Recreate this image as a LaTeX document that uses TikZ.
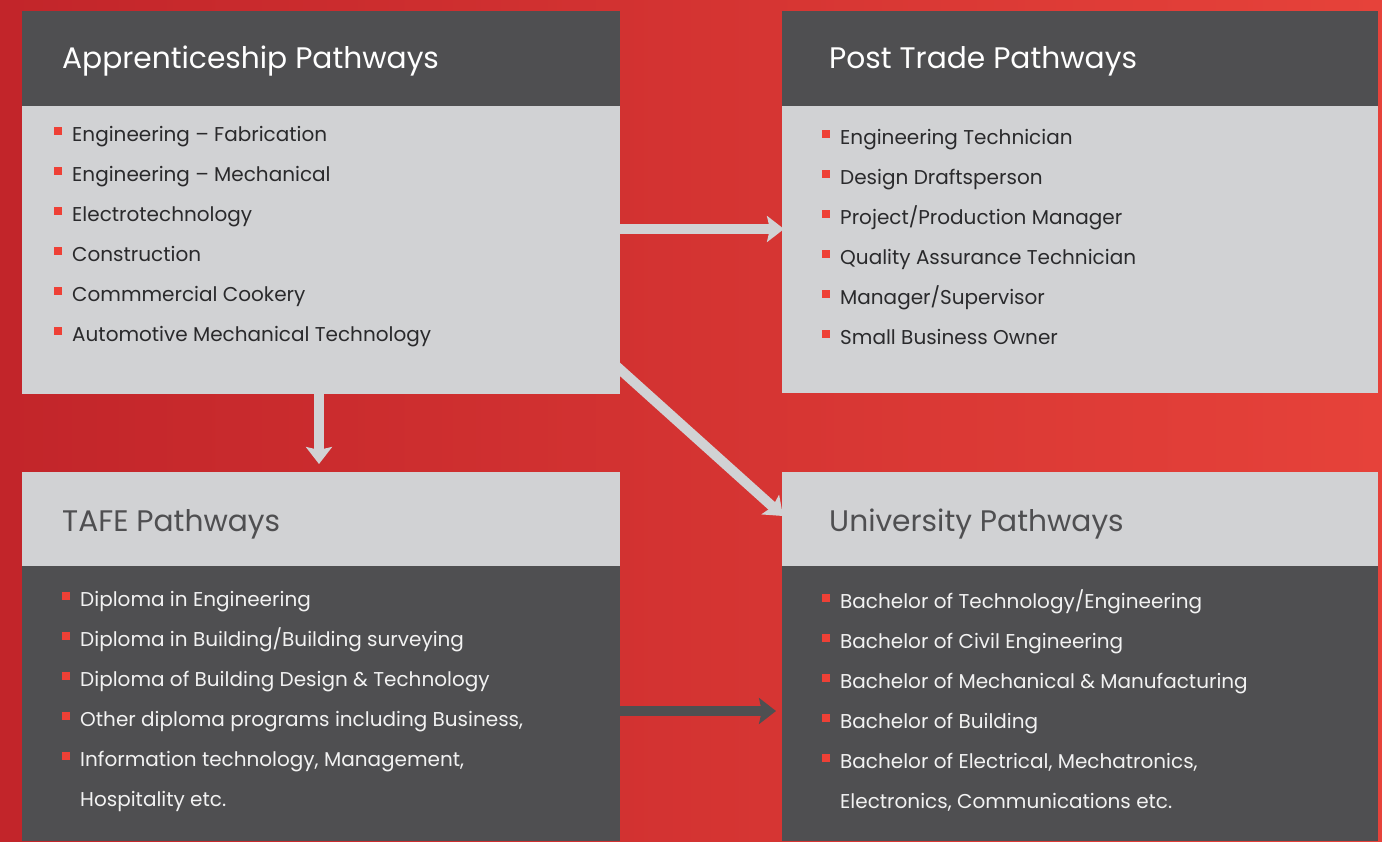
\documentclass[tikz,border=0pt]{standalone}
\usepackage{fontspec}
\setmainfont{Poppins}
\usetikzlibrary{arrows.meta}
\definecolor{dg}{HTML}{4F4F51}
\definecolor{lg}{HTML}{D1D2D4}
\definecolor{bred}{HTML}{EE4036}
\definecolor{bgl}{HTML}{C2252A}
\definecolor{bgr}{HTML}{E6423A}
\definecolor{tx}{HTML}{2A2A2C}
\definecolor{wt}{HTML}{F2F2F2}
\tikzset{
  box/.style={rectangle, inner sep=0pt, outer sep=0pt, minimum width=598pt, anchor=north west},
  hdr/.style={anchor=base west, inner sep=0pt, font=\fontsize{29.7}{36}\selectfont},
  itm/.style={anchor=base west, inner sep=0pt, font=\fontsize{20}{24}\selectfont},
  bul/.style={fill=bred, inner sep=0pt, minimum size=8pt},
  arr/.style={line width=10pt, -{Stealth[length=17pt,width=26pt,inset=3pt]}}
}
\begin{document}
\begin{tikzpicture}[x=1pt,y=-1pt]
\shade[left color=bgl,right color=bgr] (0,0) rectangle (1382,841);
\useasboundingbox (0,0) rectangle (1382,841);
% boxes
\node[box, fill=dg, minimum height=95pt] (aph) at (22,11) {};
\node[box, fill=lg, minimum height=288pt] (apb) at (22,106) {};
\node[box, fill=dg, minimum height=95pt, minimum width=596pt] (pth) at (782,11) {};
\node[box, fill=lg, minimum height=287pt, minimum width=596pt] (ptb) at (782,106) {};
\node[box, fill=lg, minimum height=94pt] (tfh) at (22,472) {};
\node[box, fill=dg, minimum height=275pt] (tfb) at (22,566) {};
\node[box, fill=lg, minimum height=94pt, minimum width=596pt] (unh) at (782,472) {};
\node[box, fill=dg, minimum height=275pt, minimum width=596pt] (unb) at (782,566) {};
% headers
\node[hdr, text=white] (t1) at (62,68) {Apprenticeship Pathways};
\node[hdr, text=white] (t2) at (829,68) {Post Trade Pathways};
\node[hdr, text=dg] (t3) at (62,531) {TAFE Pathways};
\node[hdr, text=dg] (t4) at (829,531) {University Pathways};
% top-left items
\foreach \t [count=\i] in {Engineering – Fabrication, Engineering – Mechanical, Electrotechnology, Construction, Commmercial Cookery, Automotive Mechanical Technology}{
  \node[itm, text=tx] (a\i) at (72,101+40*\i) {\t};
  \node[bul] (ab\i) at (58,90.5+40*\i) {};
}
% top-right items
\foreach \t [count=\i] in {Engineering Technician, Design Draftsperson, Project/Production Manager, Quality Assurance Technician, Manager/Supervisor, Small Business Owner}{
  \node[itm, text=tx] (p\i) at (840,104+40*\i) {\t};
  \node[bul] (pb\i) at (826,93.5+40*\i) {};
}
% bottom-left items
\foreach \t [count=\i] in {Diploma in Engineering, Diploma in Building/Building surveying, Diploma of Building Design \& Technology, {Other diploma programs including Business,}, {Information technology, Management,}}{
  \node[itm, text=wt] (d\i) at (80,566+40*\i) {\t};
  \node[bul] (db\i) at (66,556+40*\i) {};
}
\node[itm, text=wt] (d6) at (80,806) {Hospitality etc.};
% bottom-right items
\foreach \t [count=\i] in {Bachelor of Technology/Engineering, Bachelor of Civil Engineering, Bachelor of Mechanical \& Manufacturing, Bachelor of Building, {Bachelor of Electrical, Mechatronics,}}{
  \node[itm, text=wt] (u\i) at (840,568+40*\i) {\t};
  \node[bul] (ub\i) at (826,558+40*\i) {};
}
\node[itm, text=wt] (u6) at (840,808) {Electronics, Communications etc.};
% arrows
\coordinate (s1) at (apb.east |- 0,229);
\coordinate (e1) at (ptb.west |- 0,229);
\draw[arr, draw=lg, fill=lg] (s1) -- ([xshift=2pt]e1);
\coordinate (s2) at (319,394);
\coordinate (e2) at (319,464);
\draw[arr, draw=lg, fill=lg] (s2) -- (e2);
\coordinate (s3) at (614,364);
\coordinate (e3) at (783,516);
\draw[arr, draw=lg, fill=lg] (s3) -- (e3);
\coordinate (s4) at (tfb.east |- 0,711);
\coordinate (e4) at (776,711);
\draw[arr, draw=dg, fill=dg] (s4) -- (e4);
\end{tikzpicture}
\end{document}
